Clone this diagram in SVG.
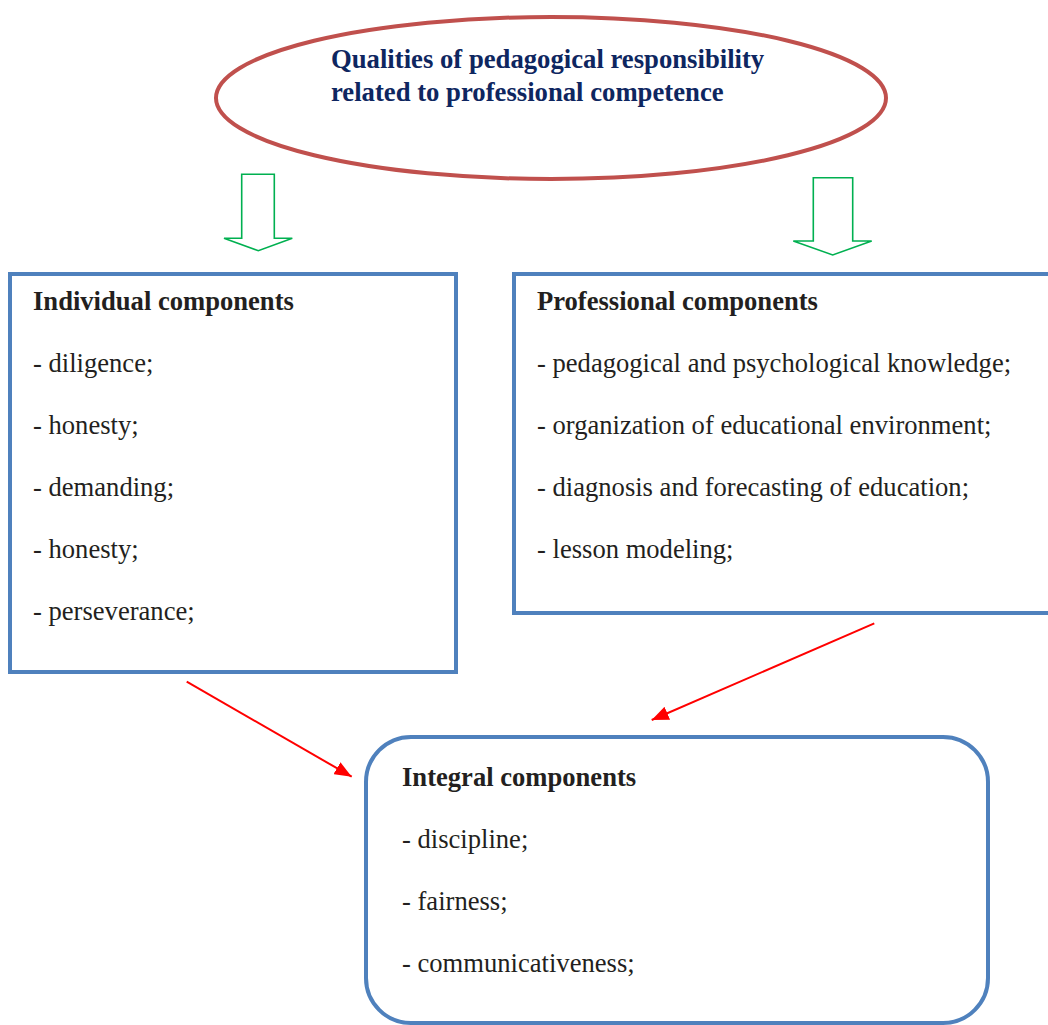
<svg xmlns="http://www.w3.org/2000/svg" width="1048" height="1025" viewBox="0 0 1048 1025">
<style>
.box{fill:#fff;stroke:#4F81BD;stroke-width:4}
.t{font-family:"Liberation Serif","Times New Roman",serif;font-size:26.6px;fill:#231F20}
.b{font-weight:bold}
.title{font-family:"Liberation Serif","Times New Roman",serif;font-size:26.7px;font-weight:bold;fill:#0E2660}
.green{fill:#fff;stroke:#00B050;stroke-width:1.6}
.red{stroke:#FF0000;stroke-width:2;fill:none}
</style>
<defs>
<marker id="ah" markerUnits="userSpaceOnUse" markerWidth="18" markerHeight="14" refX="17" refY="7" orient="auto">
<path d="M0,0 L17,7 L0,14 Z" fill="#FF0000"/>
</marker>
</defs>
<rect width="1048" height="1025" fill="#fff"/>
<g id="title">
<ellipse cx="551" cy="98" rx="335" ry="81" fill="#fff" stroke="#C0504D" stroke-width="4"/>
<text class="title" x="331" y="68">Qualities of pedagogical responsibility</text>
<text class="title" x="331" y="101">related to professional competence</text>
</g>
<g id="individual">
<rect class="box" x="10" y="274" width="446" height="398"/>
<text class="t b" x="33" y="310">Individual components</text>
<text class="t" x="33" y="372">- diligence;</text>
<text class="t" x="33" y="434">- honesty;</text>
<text class="t" x="33" y="496">- demanding;</text>
<text class="t" x="33" y="558">- honesty;</text>
<text class="t" x="33" y="620">- perseverance;</text>
</g>
<g id="professional">
<rect class="box" x="514" y="274" width="550" height="339"/>
<text class="t b" x="537" y="310">Professional components</text>
<text class="t" x="537" y="372">- pedagogical and psychological knowledge;</text>
<text class="t" x="537" y="434">- organization of educational environment;</text>
<text class="t" x="537" y="496">- diagnosis and forecasting of education;</text>
<text class="t" x="537" y="558">- lesson modeling;</text>
</g>
<g id="integral">
<rect class="box" x="366" y="737" width="622" height="286" rx="45" ry="45"/>
<text class="t b" x="402" y="786">Integral components</text>
<text class="t" x="402" y="848">- discipline;</text>
<text class="t" x="402" y="910">- fairness;</text>
<text class="t" x="402" y="972">- communicativeness;</text>
</g>
<g id="connectors">
<path class="green" d="M241.7,174.3 H274.3 V238.3 H292.3 L258.3,250.7 L224,238.3 H241.7 Z"/>
<path class="green" d="M813.3,177.7 H852.7 V241 H871.7 L832.7,255 L793.3,241 H813.3 Z"/>
<line class="red" x1="186.7" y1="681.7" x2="351.7" y2="776.7" marker-end="url(#ah)"/>
<line class="red" x1="874.3" y1="623.3" x2="651.7" y2="720" marker-end="url(#ah)"/>
</g>
</svg>
